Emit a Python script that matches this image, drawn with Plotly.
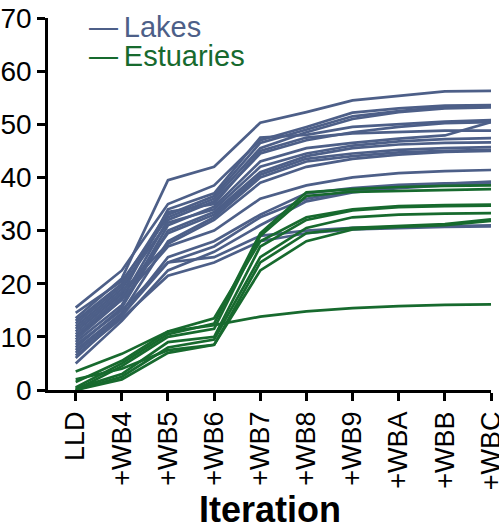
import plotly.graph_objects as go

iterations = ["LLD", "+WB4", "+WB5", "+WB6", "+WB7", "+WB8", "+WB9", "+WBA", "+WBB", "+WBC"]

lakes = [
    [13.5, 21.0, 39.5, 42.0, 50.3, 52.3, 54.5, 55.3, 56.2, 56.3],
    [15.5, 22.5, 35.0, 38.5, 47.0, 49.5, 52.2, 53.0, 53.5, 53.6],
    [12.0, 19.0, 33.0, 36.5, 46.5, 49.0, 51.5, 52.5, 53.3, 53.4],
    [14.5, 20.5, 32.5, 36.0, 45.5, 48.5, 51.0, 52.3, 53.0, 53.2],
    [11.0, 18.0, 34.0, 37.0, 47.5, 48.0, 49.5, 50.0, 50.5, 50.8],
    [10.0, 17.0, 32.0, 35.5, 44.5, 47.0, 48.5, 49.5, 50.2, 50.4],
    [9.0, 16.0, 31.0, 34.5, 43.0, 45.5, 46.5, 47.3, 47.9, 50.4],
    [13.0, 20.0, 33.5, 35.0, 45.0, 47.5, 48.3, 48.6, 48.8, 48.8],
    [12.5, 19.5, 31.5, 34.0, 42.0, 44.5, 46.0, 46.8, 47.2, 47.4],
    [8.0, 15.5, 30.0, 33.5, 41.0, 44.0, 45.5, 46.2, 46.5, 46.6],
    [10.5, 17.5, 29.5, 33.0, 40.5, 43.5, 44.5, 45.2, 45.5, 45.7],
    [7.5, 14.5, 28.0, 32.5, 40.0, 43.0, 44.0, 44.7, 45.0, 45.2],
    [11.5, 18.5, 27.5, 32.0, 39.0, 42.0, 43.5, 44.3, 44.8, 45.0],
    [9.5, 17.0, 27.0, 30.0, 36.0, 38.5, 40.0, 40.8, 41.2, 41.4],
    [6.0, 14.0, 25.0, 28.0, 33.0, 37.0, 38.0, 38.6, 38.9, 39.0],
    [8.5, 15.0, 24.0, 27.0, 32.5, 36.0, 37.5, 38.3, 38.8, 39.2],
    [5.0, 13.0, 22.5, 26.0, 31.0, 35.5, 37.2, 38.0, 38.5, 38.8],
    [7.0, 14.0, 24.0, 25.0, 29.0, 30.0, 30.5, 30.7, 30.9, 31.0],
    [6.5, 13.5, 21.5, 24.0, 28.0, 29.5, 30.2, 30.5, 30.7, 30.8],
]

estuaries = [
    [0.5, 5.0, 10.5, 12.5, 29.5, 37.2, 37.8, 38.2, 38.4, 38.5],
    [0.0, 4.5, 10.0, 11.5, 29.0, 36.5, 37.3, 37.5, 37.7, 37.8],
    [1.5, 5.5, 11.0, 13.5, 28.0, 32.5, 34.0, 34.6, 34.8, 34.9],
    [0.3, 3.0, 9.0, 10.0, 27.0, 32.0, 33.8, 34.4, 34.6, 34.7],
    [0.0, 2.5, 8.0, 9.5, 25.0, 30.5, 32.5, 33.0, 33.2, 33.3],
    [2.0, 4.0, 7.5, 8.5, 24.0, 29.5, 30.5, 30.8, 31.2, 32.1],
    [0.0, 2.0, 7.0, 8.5, 22.5, 28.0, 30.2, 30.7, 31.0, 31.8],
    [3.5, 6.8, 11.0, 12.2, 13.8, 14.8, 15.4, 15.8, 16.0, 16.1],
]

groups = [("Lakes", "#4d5f88", lakes), ("Estuaries", "#176a2e", estuaries)]
FONT = "Liberation Sans, Arial, sans-serif"

fig = go.Figure()

for label, color, series in groups:
    for ys in series:
        fig.add_trace(go.Scatter(
            x=iterations, y=ys, mode="lines",
            line=dict(color=color, width=2.7),
            name=label, showlegend=False, hoverinfo="skip",
        ))

# Colour-keyed legend text in the upper-left corner
legend_y = [0.975, 0.897]
for (label, color, _), ly in zip(groups, legend_y):
    fig.add_annotation(
        xref="paper", yref="paper", x=0.089, y=ly,
        xanchor="left", yanchor="middle", showarrow=False,
        text=f"—\u2009{label}", font=dict(size=29, color=color),
    )

# x-axis title, placed below the rotated tick labels
fig.add_annotation(
    xref="paper", yref="paper", x=0.5, y=-0.381,
    xanchor="center", yanchor="bottom", showarrow=False,
    text="<b>Iteration</b>", font=dict(size=36, color="black"),
)

fig.update_layout(
    width=499, height=532,
    margin=dict(l=48, r=8, t=18, b=142),
    paper_bgcolor="white", plot_bgcolor="white",
    font=dict(family=FONT, size=28, color="black"),
    showlegend=False,
    xaxis=dict(
        type="category", range=[-0.6, 9], automargin=False,
        showline=True, linecolor="black", linewidth=2.5,
        ticks="outside", ticklen=8, tickwidth=2.5, tickcolor="black",
        tickangle=-90, tickfont=dict(size=27),
        showgrid=False, zeroline=False,
    ),
    yaxis=dict(
        range=[0, 70], tickvals=[0, 10, 20, 30, 40, 50, 60, 70],
        automargin=False,
        showline=True, linecolor="black", linewidth=2.5,
        ticks="outside", ticklen=8, tickwidth=2.5, tickcolor="black",
        tickfont=dict(size=28),
        showgrid=False, zeroline=False,
    ),
)

fig.write_html("out.html")
